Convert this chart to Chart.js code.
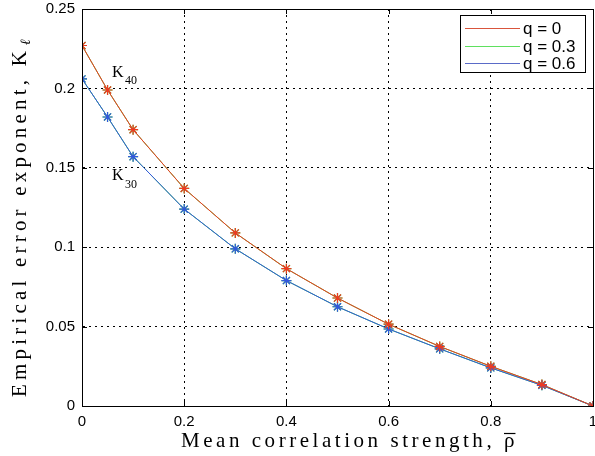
<!DOCTYPE html>
<html>
<head>
<meta charset="utf-8">
<script src="https://cdn.jsdelivr.net/npm/chart.js@4.4.1/dist/chart.umd.min.js"></script>
<style>
html,body{margin:0;padding:0;background:#fff;overflow:hidden;}
#wrap{width:600px;height:456px;}
</style>
</head>
<body>
<div id="wrap"><canvas id="c" width="600" height="456"></canvas></div>
<script>
// ---- data ----
const rho = [0, 0.05, 0.1, 0.2, 0.3, 0.4, 0.5, 0.6, 0.7, 0.8, 0.9, 1.0];
const k40_q0  = [0.227, 0.199, 0.174, 0.137, 0.109, 0.0865, 0.068, 0.0515, 0.0375, 0.025, 0.0135, 0.0];
const k40_q03 = [0.227, 0.199, 0.174, 0.137, 0.109, 0.0865, 0.068, 0.0515, 0.0375, 0.0250, 0.0135, 0.0];
const k30_q03 = [0.206, 0.182, 0.157, 0.124, 0.099, 0.079, 0.0625, 0.0485, 0.036, 0.024, 0.013, 0.0];
const k30_q06 = [0.206, 0.182, 0.157, 0.124, 0.099, 0.079, 0.0625, 0.0485, 0.036, 0.024, 0.013, 0.0];
const xTicks = [0, 0.2, 0.4, 0.6, 0.8, 1];
const xTickLabels = ['0', '0.2', '0.4', '0.6', '0.8', '1'];
const yTicks = [0, 0.05, 0.1, 0.15, 0.2, 0.25];
const yTickLabels = ['0', '0.05', '0.1', '0.15', '0.2', '0.25'];
const legendLabels = ['q = 0', 'q = 0.3', 'q = 0.6'];
const colRed = '#ee3a22', colGreen = '#3ad43a', colBlue = '#3358dd';
const legendColors = ['#d9553c', '#5fe05f', '#5a6bc8'];

const pts = arr => rho.map((x, i) => ({x: x, y: arr[i]}));
const ds = (arr, col) => ({
  data: pts(arr), borderColor: col, backgroundColor: col,
  borderWidth: 1, pointStyle: 'star', pointRadius: 5, pointBorderWidth: 1.2,
  pointBorderColor: col, showLine: true, tension: 0
});

const sans = '"Liberation Sans", Arial, sans-serif';
const serif = '"Liberation Serif", "Times New Roman", serif';

function spacedText(ctx, txt, x, y, target) {
  ctx.letterSpacing = '0px';
  const w = ctx.measureText(txt).width;
  const n = [...txt].length;
  const sp = (target - w) / n;
  ctx.letterSpacing = sp + 'px';
  ctx.fillText(txt, x, y);
  ctx.letterSpacing = '0px';
}

const deco = {
  id: 'deco',
  afterDraw(chart) {
    const ctx = chart.ctx, a = chart.chartArea;
    const xs = chart.scales.x, ys = chart.scales.y;
    ctx.save();
    ctx.setTransform(1, 0, 0, 1, 0, 0);
    ctx.direction = 'ltr';
    ctx.letterSpacing = '0px';
    // inner ticks
    ctx.strokeStyle = '#000'; ctx.lineWidth = 1;
    ctx.beginPath();
    xTicks.forEach(v => {
      const px = Math.round(xs.getPixelForValue(v)) + 0.5;
      ctx.moveTo(px, a.bottom); ctx.lineTo(px, a.bottom - 5);
      ctx.moveTo(px, a.top); ctx.lineTo(px, a.top + 5);
    });
    yTicks.forEach(v => {
      const py = Math.round(ys.getPixelForValue(v)) + 0.5;
      ctx.moveTo(a.left, py); ctx.lineTo(a.left + 5, py);
      ctx.moveTo(a.right, py); ctx.lineTo(a.right - 5, py);
    });
    ctx.stroke();
    // frame
    ctx.strokeStyle = '#000';
    ctx.strokeRect(Math.round(a.left) + 0.5, Math.round(a.top) + 0.5,
                   Math.round(a.right - a.left), Math.round(a.bottom - a.top));
    // legend box
    const lx = 460, ly = 15, lw = 125, lh = 57;
    ctx.fillStyle = '#fff';
    ctx.fillRect(lx, ly, lw, lh);
    ctx.strokeRect(lx + 0.5, ly + 0.5, lw, lh);
    const rows = [28, 46, 63];
    ctx.font = '17px ' + sans;
    ctx.textBaseline = 'middle';
    ctx.textAlign = 'left';
    legendLabels.forEach((t, i) => {
      ctx.strokeStyle = legendColors[i];
      ctx.lineWidth = 1.2;
      ctx.beginPath();
      ctx.moveTo(465, rows[i] + 0.5); ctx.lineTo(520, rows[i] + 0.5);
      ctx.stroke();
      ctx.fillStyle = '#000';
      ctx.fillText(t, 523, rows[i] + 1);
    });
    // curve annotations
    ctx.fillStyle = '#000';
    ctx.textBaseline = 'alphabetic';
    ctx.font = '16px ' + serif;
    ctx.fillText('K', 112, 77);
    ctx.fillText('K', 112, 180);
    ctx.font = '12px ' + serif;
    ctx.fillText('40', 125, 84);
    ctx.fillText('30', 125, 188);
    // x title
    ctx.font = '21px ' + serif;
    ctx.textAlign = 'left';
    const xtitle = 'Mean correlation strength, ρ';
    const tx0 = 181, tw = 337;
    spacedText(ctx, xtitle, tx0, 447, tw);
    ctx.letterSpacing = '0px';
    const rw = ctx.measureText('ρ').width;
    const rEnd = tx0 + tw - (tw - ctx.measureText(xtitle).width) / [...xtitle].length;
    ctx.strokeStyle = '#000'; ctx.lineWidth = 1.2;
    ctx.beginPath();
    ctx.moveTo(rEnd - rw, 433.5); ctx.lineTo(rEnd + 1, 433.5);
    ctx.stroke();
    // y title
    ctx.save();
    ctx.translate(26, 397);
    ctx.rotate(-Math.PI / 2);
    ctx.font = '21px ' + serif;
    const ytitle = 'Empirical error exponent, K';
    spacedText(ctx, ytitle, 0, 0, 350);
    ctx.font = 'italic 14px ' + serif;
    ctx.fillText('ℓ', 352, 4);
    ctx.restore();
    ctx.restore();
  }
};

new Chart(document.getElementById('c'), {
  type: 'scatter',
  data: {
    datasets: [
      ds(k40_q0, colRed),
      ds(k30_q06, colBlue),
      ds(k40_q03, colGreen),
      ds(k30_q03, colGreen)
    ]
  },
  options: {
    responsive: false,
    animation: false,
    layout: {padding: {left: 0, right: 7, top: 9, bottom: 0}},
    plugins: {legend: {display: false}, tooltip: {enabled: false}},
    scales: {
      x: {
        type: 'linear', min: 0, max: 1,
        afterFit(s) { s.height = 50; s.paddingLeft = 0; s.paddingRight = 0; },
        afterBuildTicks(s) { s.ticks = xTicks.map(v => ({value: v})); },
        ticks: {
          font: {family: sans, size: 15}, color: '#000', padding: 7, maxRotation: 0,
          callback: (v) => { const i = xTicks.indexOf(v); return i >= 0 ? xTickLabels[i] : ''; }
        },
        grid: {color: '#000', lineWidth: 1, drawTicks: false, tickLength: 0},
        border: {display: true, color: '#000', dash: [2, 4]}
      },
      y: {
        type: 'linear', min: 0, max: 0.25,
        afterFit(s) { s.width = 82; s.paddingTop = 0; s.paddingBottom = 0; },
        afterBuildTicks(s) { s.ticks = yTicks.map(v => ({value: v})); },
        ticks: {
          font: {family: sans, size: 15}, color: '#000', padding: 7,
          callback: (v) => { const i = yTicks.findIndex(t => Math.abs(t - v) < 1e-9); return i >= 0 ? yTickLabels[i] : ''; }
        },
        grid: {color: '#000', lineWidth: 1, drawTicks: false, tickLength: 0},
        border: {display: true, color: '#000', dash: [2, 4]}
      }
    }
  },
  plugins: [deco]
});
</script>
</body>
</html>
